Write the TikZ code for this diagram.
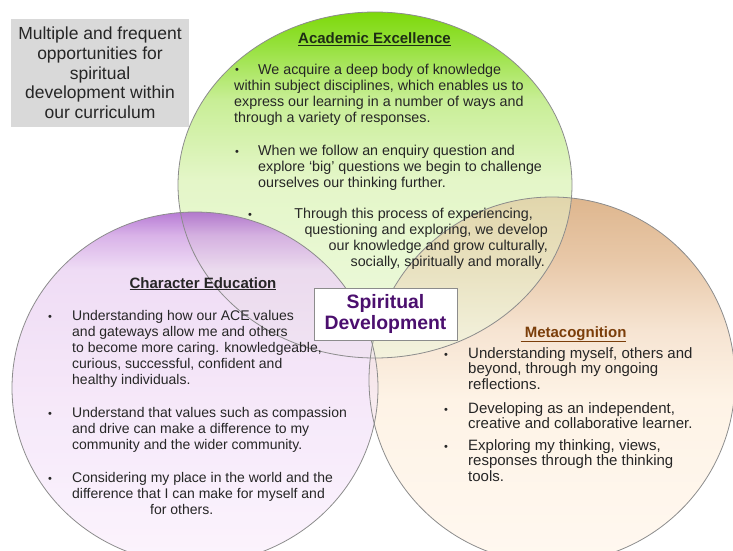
\documentclass[tikz,border=0pt]{standalone}
\usepackage{fontspec}
\setmainfont{Liberation Sans}
\usepackage{tikz}

\definecolor{greenA}{RGB}{125,217,10}
\definecolor{greenB}{RGB}{150,225,60}
\definecolor{greenC}{RGB}{200,238,150}
\definecolor{greenD}{RGB}{228,246,200}
\definecolor{greenE}{RGB}{238,250,224}
\definecolor{purA}{RGB}{170,100,205}
\definecolor{purB}{RGB}{210,165,228}
\definecolor{purC}{RGB}{236,214,243}
\definecolor{purD}{RGB}{244,228,248}
\definecolor{purE}{RGB}{251,242,253}
\definecolor{oraA}{RGB}{222,182,142}
\definecolor{oraB}{RGB}{232,200,168}
\definecolor{oraC}{RGB}{246,228,210}
\definecolor{oraD}{RGB}{254,243,230}
\definecolor{oraE}{RGB}{255,248,240}
\definecolor{ringgray}{RGB}{140,140,140}
\definecolor{bodygray}{RGB}{38,38,38}
\definecolor{boxgray}{RGB}{217,217,217}
\definecolor{acadink}{RGB}{30,45,20}
\definecolor{metaink}{RGB}{123,62,10}
\definecolor{spiritink}{RGB}{75,15,110}

\pgfdeclareverticalshading{greenfade}{100bp}{color(0bp)=(greenE); color(25bp)=(greenE); color(50.7bp)=(greenD); color(62.3bp)=(greenC); color(70.2bp)=(greenB); color(75bp)=(greenA); color(100bp)=(greenA)}
\pgfdeclareverticalshading{purplefade}{100bp}{color(0bp)=(purE); color(25bp)=(purE); color(48.3bp)=(purD); color(66.8bp)=(purC); color(71.7bp)=(purB); color(75bp)=(purA); color(100bp)=(purA)}
\pgfdeclareverticalshading{orangefade}{100bp}{color(0bp)=(oraE); color(25bp)=(oraE); color(47.3bp)=(oraD); color(56.8bp)=(oraC); color(66.4bp)=(oraB); color(75bp)=(oraA); color(100bp)=(oraA)}

\begin{document}
\begin{tikzpicture}[x=1pt,y=-1pt]
  \tikzset{
    every node/.style={inner sep=0pt},
    ringline/.style={draw=ringgray, line width=0.8pt},
    bodytext/.style={font=\fontsize{14}{16}\selectfont, text=bodygray, align=left, anchor=base west},
    acadtext/.style={bodytext, font=\fontsize{14.3}{16}\selectfont},
    metatext/.style={bodytext, font=\fontsize{15}{15.5}\selectfont},
    blt/.style={font=\fontsize{11}{16}\selectfont, text=bodygray, anchor=base},
    heading/.style={font=\fontsize{15}{17}\selectfont\bfseries, anchor=base}
  }
  \clip (0,0) rectangle (733,551);

  \shade[shading=greenfade] (375,185) ellipse [x radius=197, y radius=173];
  \shade[shading=purplefade, fill opacity=0.85] (195,388) ellipse [x radius=183, y radius=176];
  \shade[shading=orangefade] (552,380) ellipse [x radius=183, y radius=183];
  \begin{scope}
    \clip (552,380) ellipse [x radius=183, y radius=183];
    \shade[shading=greenfade, fill opacity=0.5] (375,185) ellipse [x radius=197, y radius=173];
    \shade[shading=purplefade, fill opacity=0.5] (195,388) ellipse [x radius=183, y radius=176];
  \end{scope}
  \draw[ringline] (375,185) ellipse [x radius=197, y radius=173];
  \draw[ringline] (195,388) ellipse [x radius=183, y radius=176];
  \draw[ringline] (552,380) ellipse [x radius=183, y radius=183];

  \node[fill=boxgray, minimum width=178pt, minimum height=108pt, align=center,
        font=\fontsize{17.5}{19.7}\selectfont, text=bodygray] (intro) at (100,73)
    {Multiple and frequent\\opportunities for\\spiritual\\development within\\our curriculum};

  \node[heading, text=acadink] (acadhead) at (374.5,44) {\underline{Academic Excellence}};
  \node[blt] (acadb1) at (237,74) {\textbullet};
  \node[acadtext] (acadA) at (234,122)
    {\hspace*{24pt}We acquire a deep body of knowledge\\within subject disciplines, which enables us to\\express our learning in a number of ways and\\through a variety of responses.};
  \node[blt] (acadb2) at (237,155) {\textbullet};
  \node[acadtext] (acadB) at (258,187)
    {When we follow an enquiry question and\\explore ‘big’ questions we begin to challenge\\ourselves our thinking further.};
  \node[blt] (acadb3) at (250,218) {\textbullet};
  \node[acadtext, align=right, anchor=base east] (acadC) at (548,266)
    {Through this process of experiencing,\hspace*{15pt}\\questioning and exploring, we develop\\our knowledge and grow culturally,\hspace*{5pt}\\socially, spiritually and morally.\hspace*{3pt}};

  \node[heading, text=bodygray] (charhead) at (203,288) {\underline{Character Education}};
  \node[blt] (charb1) at (50,320) {\textbullet};
  \node[bodytext] (charA) at (72,384)
    {Understanding how our ACE values\\and gateways allow me and others\\to become more caring. knowledgeable,\\curious, successful, confident and\\healthy individuals.};
  \node[blt] (charb2) at (50,417) {\textbullet};
  \node[bodytext] (charB) at (72,449)
    {Understand that values such as compassion\\and drive can make a difference to my\\community and the wider community.};
  \node[blt] (charb3) at (50,482) {\textbullet};
  \node[bodytext] (charC) at (72,514)
    {Considering my place in the world and the\\difference that I can make for myself and\\\hspace*{78pt}for others.};

  \node[fill=white, draw=ringgray, line width=0.8pt, minimum width=143pt, minimum height=52pt,
        align=center, font=\fontsize{19.4}{21}\selectfont\bfseries, text=spiritink] (spirit) at (385.5,314)
    {Spiritual\\Development};

  \node[heading, text=metaink] (metahead) at (573.5,337) {\underline{\ Metacognition}};
  \node[blt] (metab1) at (446,358) {\textbullet};
  \node[metatext] (metaA) at (468,389)
    {Understanding myself, others and\\beyond, through my ongoing\\reflections.};
  \node[blt] (metab2) at (446,413) {\textbullet};
  \node[metatext] (metaB) at (468,428.5)
    {Developing as an independent,\\creative and collaborative learner.};
  \node[blt] (metab3) at (446,450) {\textbullet};
  \node[metatext] (metaC) at (468,481)
    {Exploring my thinking, views,\\responses through the thinking\\tools.};
\end{tikzpicture}
\end{document}
